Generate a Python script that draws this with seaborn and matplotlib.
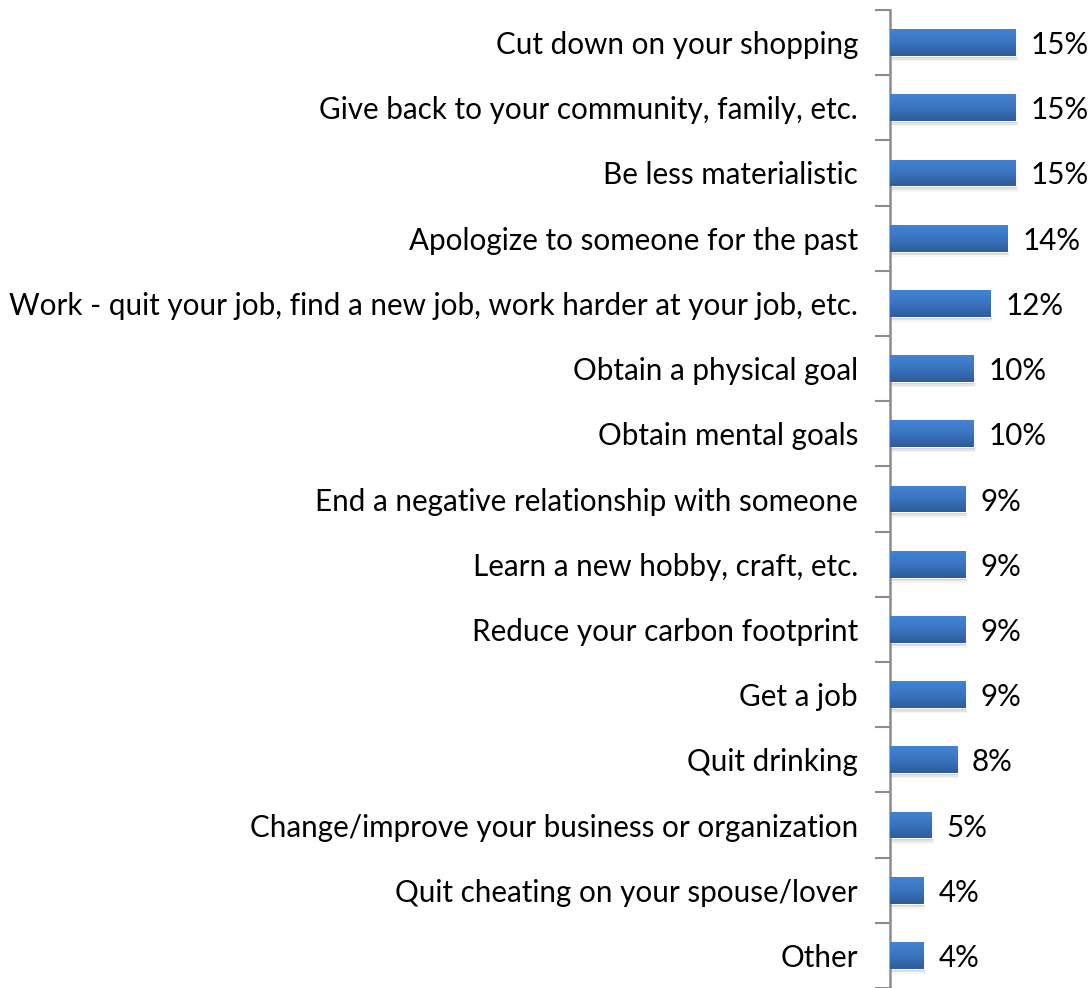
import matplotlib
matplotlib.use("Agg")
import matplotlib.pyplot as plt
import seaborn as sns
import numpy as np
import pandas as pd
from matplotlib.colors import LinearSegmentedColormap

categories = [
    "Cut down on your shopping",
    "Give back to your community, family, etc.",
    "Be less materialistic",
    "Apologize to someone for the past",
    "Work - quit your job, find a new job, work harder at your job, etc.",
    "Obtain a physical goal",
    "Obtain mental goals",
    "End a negative relationship with someone",
    "Learn a new hobby, craft, etc.",
    "Reduce your carbon footprint",
    "Get a job",
    "Quit drinking",
    "Change/improve your business or organization",
    "Quit cheating on your spouse/lover",
    "Other",
]
values = [15, 15, 15, 14, 12, 10, 10, 9, 9, 9, 9, 8, 5, 4, 4]

sns.set_theme(style="white")
plt.rcParams['font.family'] = ['Lato', 'DejaVu Sans']

df = pd.DataFrame({"cat": categories, "val": values})

fig = plt.figure(figsize=(10.89, 9.88), dpi=100)
ax = fig.add_axes([890/1089, 0.0, 1 - 890/1089, 1 - 10/988])

sns.barplot(data=df, x="val", y="cat", orient="h", color="#3A75C4",
            width=0.41, ax=ax, saturation=1)

ax.set_xlim(0, 23.7)
ax.set_ylim(len(categories) - 0.5, -0.5)

cmap = LinearSegmentedColormap.from_list("g", ["#4283D3", "#3A74BF", "#2D5C99"])
grad = np.linspace(0, 1, 64).reshape(-1, 1)
for p in list(ax.patches):
    x0, y0 = p.get_x(), p.get_y()
    w, h = p.get_width(), p.get_height()
    # soft shadow
    for k, a in enumerate([0.10, 0.07, 0.04]):
        off = 0.06 + 0.05 * k
        ax.add_patch(plt.Rectangle((x0 + off * 1.2, y0 + off * 0.5), w, h,
                                   color="#000000", alpha=a, zorder=1, lw=0))
    p.set_zorder(2)
    im = ax.imshow(grad, cmap=cmap, aspect="auto",
                   extent=(x0, x0 + w, y0 + h, y0), zorder=3)
    im.set_clip_path(p)

for i, v in enumerate(values):
    ax.text(v + 1.75, i, f"{v}%", va="center_baseline", ha="left",
            fontsize=21.3, color="black")

ax.set_xlabel("")
ax.set_ylabel("")
ax.set_xticks([])
ax.set_yticks(range(len(categories)))
ax.set_yticklabels(categories, fontsize=21.3, color="black")
ax.set_yticks(np.arange(-0.5, len(categories), 1), minor=True)
ax.tick_params(axis="y", which="major", length=0, pad=23)
ax.tick_params(axis="y", which="minor", length=11, width=1.5, color="#8C8C8C",
               direction="out", left=True)

for s in ["top", "right", "bottom"]:
    ax.spines[s].set_visible(False)
ax.spines["left"].set_color("#8C8C8C")
ax.spines["left"].set_linewidth(1.8)
ax.set_facecolor("none")

fig.savefig("out.png", dpi=100)
